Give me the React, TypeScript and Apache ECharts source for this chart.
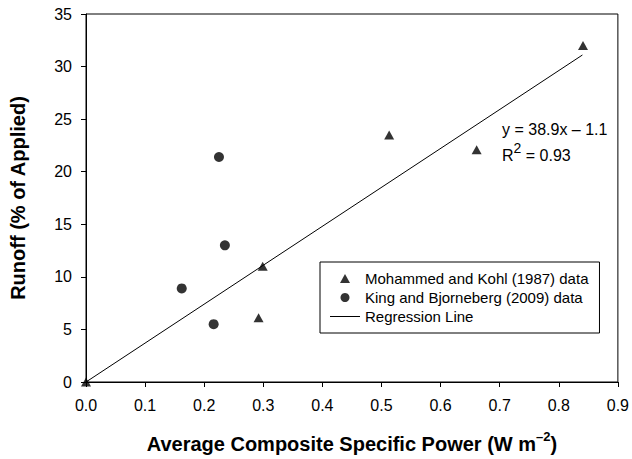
import React, { useEffect, useRef } from "react";
import * as echarts from "echarts";

// Mohammed and Kohl (1987) data
const mkX = [0, 0.292, 0.299, 0.513, 0.661, 0.841];
const mkY = [0, 6.1, 11.0, 23.5, 22.1, 32.0];
// King and Bjorneberg (2009) data
const kbX = [0.162, 0.216, 0.225, 0.235];
const kbY = [8.9, 5.5, 21.4, 13.0];
// Regression line end points
const regX = [0, 0.84];
const regY = [0, 31.1];

const seriesNames = [
  "Mohammed and Kohl (1987) data",
  "King and Bjorneberg (2009) data",
  "Regression Line",
];
const equationText = "y = 38.9x \u2013 1.1";
const r2Value = "0.93";

const FONT = "'Liberation Sans', Arial, Helvetica, sans-serif";
const TRI = "path://M5,0L10,9L0,9Z";
const LINE_ICON = "path://M0,0L30,0L30,1L0,1Z";

export default function App() {
  const ref = useRef<HTMLDivElement>(null);
  useEffect(() => {
    if (!ref.current) return;
    const chart = echarts.init(ref.current, null, { renderer: "svg" });
    const zip = (xs: number[], ys: number[]) => xs.map((x, i) => [x, ys[i]]);
    chart.setOption({
      animation: false,
      backgroundColor: "#fff",
      textStyle: { fontFamily: FONT, color: "#000" },
      grid: {
        left: 86,
        right: 12,
        top: 14,
        bottom: 75,
        show: true,
        borderColor: "#000",
        borderWidth: 1,
      },
      xAxis: {
        type: "value",
        min: 0,
        max: 0.9,
        interval: 0.1,
        splitLine: { show: false },
        axisLine: { lineStyle: { color: "#000", width: 1 } },
        axisTick: { inside: false, length: 5, lineStyle: { color: "#000" } },
        axisLabel: {
          color: "#000",
          fontSize: 16,
          fontFamily: FONT,
          margin: 15,
          formatter: (v: number) => v.toFixed(1),
        },
        name: "{b|Average Composite Specific Power (W m}{s|\u20132}{b|)}",
        nameLocation: "middle",
        nameGap: 48,
        nameTextStyle: {
          rich: {
            b: { fontSize: 20, fontWeight: "bold", fontFamily: FONT, color: "#000", lineHeight: 24, verticalAlign: "bottom" },
            s: { fontSize: 13, fontWeight: "bold", fontFamily: FONT, color: "#000", lineHeight: 24, verticalAlign: "top" },
          },
        },
      },
      yAxis: {
        type: "value",
        min: 0,
        max: 35,
        interval: 5,
        splitLine: { show: false },
        axisLine: { show: true, lineStyle: { color: "#000", width: 1 } },
        axisTick: { show: true, inside: false, length: 5, lineStyle: { color: "#000" } },
        axisLabel: { color: "#000", fontSize: 16, fontFamily: FONT, margin: 14 },
        name: "Runoff (% of Applied)",
        nameLocation: "middle",
        nameGap: 58,
        nameTextStyle: { fontSize: 20, fontWeight: "bold", fontFamily: FONT, color: "#000" },
      },
      legend: {
        orient: "vertical",
        left: 320,
        top: 262,
        padding: [9, 11, 9, 10],
        backgroundColor: "#fff",
        borderColor: "#000",
        borderWidth: 1,
        borderRadius: 0,
        itemWidth: 30,
        itemHeight: 9,
        itemGap: 4,
        selectedMode: false,
        textStyle: { fontSize: 15, fontFamily: FONT, color: "#000", lineHeight: 15 },
        data: [
          { name: seriesNames[0], icon: TRI },
          { name: seriesNames[1], icon: "circle" },
          { name: seriesNames[2], icon: LINE_ICON },
        ],
      },
      graphic: [
        {
          type: "text",
          left: 502,
          top: 121,
          style: { text: equationText, font: `16px ${FONT}`, fill: "#000" },
        },
        {
          type: "text",
          left: 502,
          top: 141,
          style: {
            text: `{r|R}{s|2}{r| = ${r2Value}}`,
            fill: "#000",
            rich: {
              r: { fontSize: 16, fontFamily: FONT, fill: "#000", lineHeight: 22, verticalAlign: "bottom" },
              s: { fontSize: 14, fontFamily: FONT, fill: "#000", lineHeight: 22, verticalAlign: "top" },
            },
          },
        },
      ],
      series: [
        {
          name: seriesNames[0],
          type: "scatter",
          symbol: "triangle",
          symbolSize: [10, 9],
          clip: false,
          itemStyle: { color: "#000" },
          data: zip(mkX, mkY),
          z: 3,
        },
        {
          name: seriesNames[1],
          type: "scatter",
          symbol: "circle",
          symbolSize: 10,
          clip: false,
          itemStyle: { color: "#000" },
          data: zip(kbX, kbY),
          z: 3,
        },
        {
          name: seriesNames[2],
          type: "line",
          symbol: "none",
          lineStyle: { color: "#000", width: 1 },
          itemStyle: { color: "#000" },
          data: zip(regX, regY),
          z: 2,
        },
      ],
    });
    return () => chart.dispose();
  }, []);
  return <div ref={ref} style={{ width: 632, height: 459, position: "absolute", left: 0, top: 0 }} />;
}
